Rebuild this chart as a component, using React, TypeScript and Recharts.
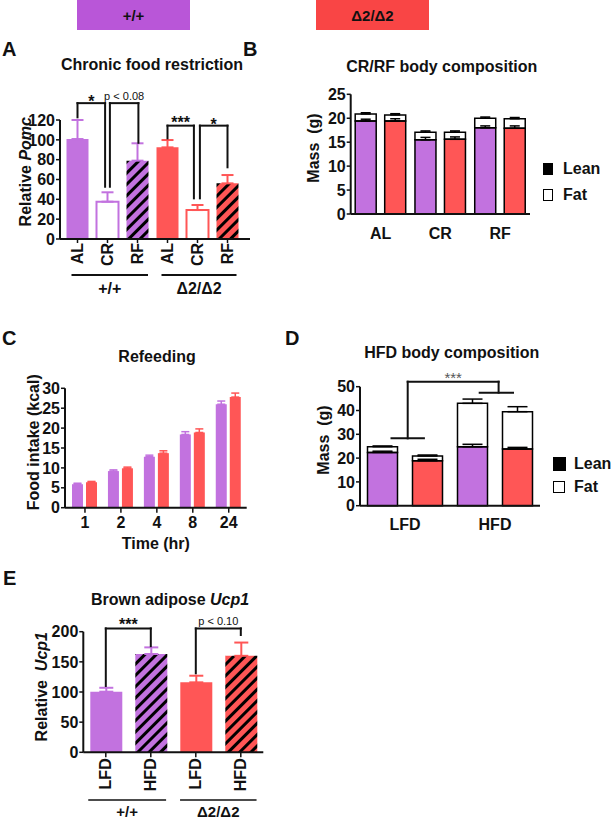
import React from 'react';
import { Bar, BarChart, Cell, ErrorBar, ReferenceLine, XAxis, YAxis } from 'recharts';

const FONT = '"Liberation Sans", Arial, Helvetica, sans-serif';
const PURPLE = '#C272DF';
const RED = '#FF5656';
const INK = '#111';

// A - chronic food restriction, relative Pomc
const pomcDiets = ['AL', 'CR', 'RF', 'AL', 'CR', 'RF'];
const pomcWt = [100.8, 37.6, 79, null, null, null];
const pomcWtErr = [19.2, 9.5, 17.5, null, null, null];
const pomcMut = [null, null, null, 92.4, 29.2, 56.1];
const pomcMutErr = [null, null, null, 7.4, 5.1, 8.4];
const pomcTicks = [0, 20, 40, 60, 80, 100, 120];
const pomcBrackets = [
  { a: 0, b: 0.92, top: 137, endA: 122.7, endB: 52.7, text: '*' },
  { a: 1.08, b: 2.03, top: 137, endA: 52.7, endB: 97, text: 'p < 0.08' },
  { a: 3, b: 3.88, top: 114.3, endA: 101.5, endB: 41, text: '***' },
  { a: 4.08, b: 5, top: 114.3, endA: 41, endB: 72.3, text: '*' },
];
const pomcGroups = [
  { from: -0.2, to: 2.35, y: -36.3, name: '+/+' },
  { from: 2.8, to: 5.3, y: -36.3, name: 'Δ2/Δ2' },
];

// B - CR/RF body composition
const compDiets = ['AL', 'CR', 'RF'];
const compLeanWt = [19.4, 15.5, 18.0];
const compLeanWtErr = [0.4, 0.5, 0.4];
const compFatWt = [1.5, 1.6, 2.0];
const compFatWtErr = [0.25, 0.25, 0.25];
const compLeanMut = [19.4, 15.6, 17.9];
const compLeanMutErr = [0.5, 0.5, 0.5];
const compFatMut = [1.3, 1.5, 2.0];
const compFatMutErr = [0.25, 0.25, 0.25];

// C - refeeding
const refeedHours = ['1', '2', '4', '8', '24'];
const refeedWt = [5.9, 9.2, 12.8, 18.4, 26.0];
const refeedWtErr = [0.25, 0.3, 0.4, 0.7, 0.8];
const refeedMut = [6.4, 9.9, 13.7, 18.9, 27.8];
const refeedMutErr = [0.2, 0.3, 0.6, 0.9, 1.0];

// D - HFD body composition
const hfdDiets = ['LFD', 'HFD'];
const hfdLeanWt = [22.4, 24.8];
const hfdLeanWtErr = [0.5, 1.0];
const hfdFatWt = [2.4, 18.2];
const hfdFatWtErr = [0.3, 1.8];
const hfdLeanMut = [18.9, 23.8];
const hfdLeanMutErr = [0.6, 0.7];
const hfdFatMut = [2.0, 15.7];
const hfdFatMutErr = [0.4, 2.1];
const hfdBracket = [
  { x1: -0.15, y1: 28.3, x2: 0.21, y2: 28.3 },
  { x1: 0.03, y1: 28.3, x2: 0.03, y2: 52.1 },
  { x1: 0.03, y1: 52.1, x2: 1.04, y2: 52.1, text: '***' },
  { x1: 1.04, y1: 52.1, x2: 1.04, y2: 47.5 },
  { x1: 0.83, y1: 47.5, x2: 1.2, y2: 47.5 },
];

// E - brown adipose Ucp1
const ucpDiets = ['LFD', 'HFD', 'LFD', 'HFD'];
const ucpWt = [100.5, 163, null, null];
const ucpWtErr = [6.5, 11, null, null];
const ucpMut = [null, null, 116, 160];
const ucpMutErr = [null, null, 11, 22];
const ucpBrackets = [
  { a: 0, b: 1, top: 205.5, endA: 110, endB: 176, text: '***' },
  { a: 2, b: 3, top: 205.5, endA: 131, endB: 194.5, text: 'p < 0.10' },
];
const ucpGroups = [
  { from: -0.39, to: 1.34, y: -79, name: '+/+' },
  { from: 1.65, to: 3.35, y: -79, name: 'Δ2/Δ2' },
];

const up = (e: number | null) => (e == null ? null : [0, e]);

const pomcData = pomcDiets.map((diet, i) => ({
  diet, pos: i, wt: pomcWt[i], wtErr: up(pomcWtErr[i]), mut: pomcMut[i], mutErr: up(pomcMutErr[i]),
}));
const compData = compDiets.map((diet, i) => ({
  diet,
  leanWt: compLeanWt[i], leanWtErr: up(compLeanWtErr[i]),
  fatWt: compFatWt[i], fatWtErr: up(compFatWtErr[i]),
  leanMut: compLeanMut[i], leanMutErr: up(compLeanMutErr[i]),
  fatMut: compFatMut[i], fatMutErr: up(compFatMutErr[i]),
}));
const refeedData = refeedHours.map((hr, i) => ({
  hr, wt: refeedWt[i], wtErr: up(refeedWtErr[i]), mut: refeedMut[i], mutErr: up(refeedMutErr[i]),
}));
const hfdData = hfdDiets.map((diet, i) => ({
  diet, pos: i,
  leanWt: hfdLeanWt[i], leanWtErr: up(hfdLeanWtErr[i]),
  fatWt: hfdFatWt[i], fatWtErr: up(hfdFatWtErr[i]),
  leanMut: hfdLeanMut[i], leanMutErr: up(hfdLeanMutErr[i]),
  fatMut: hfdFatMut[i], fatMutErr: up(hfdFatMutErr[i]),
}));
const ucpData = ucpDiets.map((diet, i) => ({
  diet, pos: i, wt: ucpWt[i], wtErr: up(ucpWtErr[i]), mut: ucpMut[i], mutErr: up(ucpMutErr[i]),
}));

const axisLine = { stroke: INK, strokeWidth: 2 };
const tickLine = { stroke: INK, strokeWidth: 1.5 };
const tickFont = { fill: INK, fontSize: 16, fontWeight: 700, fontFamily: FONT };

const RotTick = (props: any) => {
  const { x, y, payload } = props;
  return (
    <text x={x} y={y} dy="0.35em" textAnchor="end" transform={`rotate(-90, ${x}, ${y})`}
      fill={INK} fontSize={16} fontWeight={700} fontFamily={FONT}>
      {payload.value}
    </text>
  );
};

const SideTitle = (props: any) => {
  const { cx, cy, parts } = props;
  return (
    <text x={cx} y={cy} dy="0.35em" textAnchor="middle" transform={`rotate(-90, ${cx}, ${cy})`}
      fill={INK} fontSize={16} fontWeight={700} fontFamily={FONT} style={{ whiteSpace: 'pre' }}>
      {parts.map((p: any, i: number) => (
        <tspan key={i} fontStyle={p.italic ? 'italic' : 'normal'}>{p.text}</tspan>
      ))}
    </text>
  );
};

const Hatch = ({ id, color }: { id: string; color: string }) => (
  <pattern id={id} patternUnits="userSpaceOnUse" width="8" height="8" patternTransform="rotate(45)">
    <rect width="8" height="8" fill={color} />
    <rect width="3" height="8" fill="#000" />
  </pattern>
);

const starLabel = (text: string) =>
  text.startsWith('p')
    ? { value: text, position: 'top' as const, offset: 3, fontSize: 11, fill: INK, stroke: 'none', fontFamily: FONT }
    : { value: text, position: 'top' as const, offset: text.length > 1 ? -2 : -4, fontSize: 16, fontWeight: 700, fill: INK, stroke: 'none', fontFamily: FONT };

const bracket = (b: any, key: string) => [
  <ReferenceLine key={key + 'l'} xAxisId="n" ifOverflow="visible" stroke={INK} strokeWidth={2} strokeLinecap="square"
    segment={[{ x: b.a, y: b.endA }, { x: b.a, y: b.top }]} />,
  <ReferenceLine key={key + 't'} xAxisId="n" ifOverflow="visible" stroke={INK} strokeWidth={2} strokeLinecap="square"
    segment={[{ x: b.a, y: b.top }, { x: b.b, y: b.top }]} label={starLabel(b.text)} />,
  <ReferenceLine key={key + 'r'} xAxisId="n" ifOverflow="visible" stroke={INK} strokeWidth={2} strokeLinecap="square"
    segment={[{ x: b.b, y: b.top }, { x: b.b, y: b.endB }]} />,
];

const groupLine = (g: any, key: string, width: number, offset: number, size: number) => (
  <ReferenceLine key={key} xAxisId="n" ifOverflow="visible" stroke={INK} strokeWidth={width}
    segment={[{ x: g.from, y: g.y }, { x: g.to, y: g.y }]}
    label={{ value: g.name, position: 'bottom', offset, fontSize: size, fontWeight: 700, fill: INK, stroke: 'none', fontFamily: FONT }} />
);

const abs = (left: number, top: number): React.CSSProperties => ({ position: 'absolute', left, top });

const Title = ({ cx, cy, children }: any) => (
  <div style={{ ...abs(cx - 150, cy - 8), width: 300, textAlign: 'center', fontSize: 16, lineHeight: '16px', fontWeight: 700, color: INK }}>
    {children}
  </div>
);

const Letter = ({ x, y, children }: any) => (
  <div style={{ ...abs(x, y), fontSize: 20, lineHeight: '20px', fontWeight: 700, color: INK }}>{children}</div>
);

const LegendKey = ({ x, y, size, filled, text, tx }: any) => (
  <>
    <div style={{ ...abs(x, y), width: size[0], height: size[1], boxSizing: 'border-box', background: filled ? '#000' : '#fff', border: '1.5px solid #000' }} />
    <div style={{ ...abs(tx, y + size[1] / 2 - 8), fontSize: 16, lineHeight: '16px', fontWeight: 700, color: INK }}>{text}</div>
  </>
);

const pomcFill = (diet: string, color: string, hatch: string) =>
  diet === 'CR' ? '#fff' : diet === 'RF' ? `url(#${hatch})` : color;

export default function App() {
  return (
    <div style={{ position: 'absolute', left: 0, top: 0, width: 611, height: 819, background: '#fff', fontFamily: FONT, overflow: 'hidden' }}>
      <div style={{ ...abs(77, 0), width: 113, height: 30, background: '#B956D8', display: 'flex', alignItems: 'center', justifyContent: 'center', fontSize: 15, fontWeight: 700, color: INK }}>+/+</div>
      <div style={{ ...abs(316, 0), width: 113, height: 30, background: '#F94545', display: 'flex', alignItems: 'center', justifyContent: 'center', fontSize: 15, fontWeight: 700, color: INK }}>Δ2/Δ2</div>

      <Letter x={2} y={39}>A</Letter>
      <Letter x={243} y={39}>B</Letter>
      <Letter x={2} y={327.5}>C</Letter>
      <Letter x={285} y={327.5}>D</Letter>
      <Letter x={3} y={567.5}>E</Letter>

      <Title cx={152} cy={65}>Chronic food restriction</Title>
      <Title cx={441.7} cy={67.3}>CR/RF body composition</Title>
      <Title cx={157} cy={356.7}>Refeeding</Title>
      <Title cx={451.7} cy={353.3}>HFD body composition</Title>
      <Title cx={170} cy={600}>Brown adipose <i>Ucp1</i></Title>

      {/* A */}
      <div style={abs(0, 60)}>
        <BarChart width={265} height={245} data={pomcData} margin={{ top: 60, right: 15, bottom: 0, left: 0 }} barSize={22}>
          <defs>
            <Hatch id="hatchPA" color={PURPLE} />
            <Hatch id="hatchRA" color={RED} />
          </defs>
          <XAxis xAxisId="a" dataKey="diet" height={66} interval={0} padding={{ left: 2.5, right: 7.5 }}
            tick={<RotTick />} tickSize={4} tickMargin={0} axisLine={axisLine} tickLine={tickLine} />
          <XAxis xAxisId="b" dataKey="diet" hide padding={{ left: 2.5, right: 7.5 }} />
          <XAxis xAxisId="n" dataKey="pos" type="number" domain={['dataMin', 'dataMax']} hide padding={{ left: 17.5, right: 22.5 }} />
          <YAxis width={60} domain={[0, 120]} ticks={pomcTicks} interval={0} tick={tickFont} tickSize={4} tickMargin={1}
            axisLine={axisLine} tickLine={tickLine}
            label={<SideTitle cx={25} cy={111.7} parts={[{ text: 'Relative ' }, { text: 'Pomc', italic: true }]} />} />
          <Bar xAxisId="a" dataKey="wt" isAnimationActive={false}>
            {pomcData.map((d, i) => (
              <Cell key={i} fill={pomcFill(d.diet, PURPLE, 'hatchPA')} stroke={d.diet === 'CR' ? PURPLE : 'none'} strokeWidth={2} />
            ))}
            <ErrorBar dataKey="wtErr" width={6} stroke={PURPLE} strokeWidth={2} />
          </Bar>
          <Bar xAxisId="b" dataKey="mut" isAnimationActive={false}>
            {pomcData.map((d, i) => (
              <Cell key={i} fill={pomcFill(d.diet, RED, 'hatchRA')} stroke={d.diet === 'CR' ? RED : 'none'} strokeWidth={2} />
            ))}
            <ErrorBar dataKey="mutErr" width={6} stroke={RED} strokeWidth={2} />
          </Bar>
          {pomcBrackets.map((b, i) => bracket(b, 'pb' + i))}
          {pomcGroups.map((g, i) => groupLine(g, 'pg' + i, 2, 8, 16))}
        </BarChart>
      </div>

      {/* B */}
      <div style={abs(300, 60)}>
        <BarChart width={240} height={190} data={compData} margin={{ top: 34.3, right: 10, bottom: 0, left: 0 }} barGap={8.5} barCategoryGap={4.5}>
          <XAxis dataKey="diet" height={36} interval={0} tick={tickFont} tickLine={false} tickSize={5} tickMargin={9} axisLine={axisLine} />
          <YAxis width={50.7} domain={[0, 25]} ticks={[0, 5, 10, 15, 20, 25]} interval={0} tick={tickFont} tickSize={4} tickMargin={1}
            axisLine={axisLine} tickLine={tickLine}
            label={<SideTitle cx={13} cy={88} parts={[{ text: 'Mass  (g)' }]} />} />
          <Bar dataKey="leanWt" stackId="w" fill={PURPLE} stroke="#000" strokeWidth={1.5} isAnimationActive={false}>
            <ErrorBar dataKey="leanWtErr" width={5} stroke="#000" strokeWidth={1.5} />
          </Bar>
          <Bar dataKey="fatWt" stackId="w" fill="none" stroke="#000" strokeWidth={1.5} isAnimationActive={false}>
            <ErrorBar dataKey="fatWtErr" width={5} stroke="#000" strokeWidth={1.5} />
          </Bar>
          <Bar dataKey="leanMut" stackId="m" fill={RED} stroke="#000" strokeWidth={1.5} isAnimationActive={false}>
            <ErrorBar dataKey="leanMutErr" width={5} stroke="#000" strokeWidth={1.5} />
          </Bar>
          <Bar dataKey="fatMut" stackId="m" fill="none" stroke="#000" strokeWidth={1.5} isAnimationActive={false}>
            <ErrorBar dataKey="fatMutErr" width={5} stroke="#000" strokeWidth={1.5} />
          </Bar>
        </BarChart>
      </div>
      <LegendKey x={542.5} y={163} size={[10.5, 11.5]} filled text="Lean" tx={563} />
      <LegendKey x={542.5} y={189} size={[10.5, 11.5]} text="Fat" tx={563} />

      {/* C */}
      <div style={abs(0, 370)}>
        <BarChart width={260} height={185} data={refeedData} margin={{ top: 18.3, right: 13.3, bottom: 0, left: 0 }} barSize={11} barGap={3}>
          <XAxis dataKey="hr" height={47.3} interval={0} padding={{ left: 2, right: 0 }} tick={tickFont} tickSize={5} tickMargin={4}
            axisLine={axisLine} tickLine={tickLine}
            label={{ value: 'Time (hr)', position: 'insideBottom', offset: 6.5, fontSize: 16, fontWeight: 700, fill: INK, fontFamily: FONT }} />
          <YAxis width={65} domain={[0, 30]} ticks={[0, 5, 10, 15, 20, 25, 30]} interval={0} tick={tickFont} tickSize={4} tickMargin={1}
            axisLine={axisLine} tickLine={tickLine}
            label={<SideTitle cx={33} cy={72.3} parts={[{ text: 'Food intake (kcal)' }]} />} />
          <Bar dataKey="wt" fill={PURPLE} isAnimationActive={false}>
            <ErrorBar dataKey="wtErr" width={4} stroke={PURPLE} strokeWidth={1.5} />
          </Bar>
          <Bar dataKey="mut" fill={RED} isAnimationActive={false}>
            <ErrorBar dataKey="mutErr" width={4} stroke={RED} strokeWidth={1.5} />
          </Bar>
        </BarChart>
      </div>

      {/* D */}
      <div style={abs(300, 360)}>
        <BarChart width={250} height={175} data={hfdData} margin={{ top: 26.7, right: 10, bottom: 0, left: 0 }} barGap={15} barCategoryGap={7.5}>
          <XAxis dataKey="diet" height={29.3} interval={0} tick={tickFont} tickLine={false} tickSize={5} tickMargin={8} axisLine={axisLine} />
          <XAxis xAxisId="n" dataKey="pos" type="number" domain={['dataMin', 'dataMax']} hide padding={{ left: 45, right: 45 }} />
          <YAxis width={60} domain={[0, 50]} ticks={[0, 10, 20, 30, 40, 50]} interval={0} tick={tickFont} tickSize={4} tickMargin={1}
            axisLine={axisLine} tickLine={tickLine}
            label={<SideTitle cx={23} cy={80} parts={[{ text: 'Mass  (g)' }]} />} />
          <Bar dataKey="leanWt" stackId="w" fill={PURPLE} stroke="#000" strokeWidth={1.5} isAnimationActive={false}>
            <ErrorBar dataKey="leanWtErr" width={10} stroke="#000" strokeWidth={1.5} />
          </Bar>
          <Bar dataKey="fatWt" stackId="w" fill="none" stroke="#000" strokeWidth={1.5} isAnimationActive={false}>
            <ErrorBar dataKey="fatWtErr" width={10} stroke="#000" strokeWidth={1.5} />
          </Bar>
          <Bar dataKey="leanMut" stackId="m" fill={RED} stroke="#000" strokeWidth={1.5} isAnimationActive={false}>
            <ErrorBar dataKey="leanMutErr" width={10} stroke="#000" strokeWidth={1.5} />
          </Bar>
          <Bar dataKey="fatMut" stackId="m" fill="none" stroke="#000" strokeWidth={1.5} isAnimationActive={false}>
            <ErrorBar dataKey="fatMutErr" width={10} stroke="#000" strokeWidth={1.5} />
          </Bar>
          {hfdBracket.map((s, i) => (
            <ReferenceLine key={'hb' + i} xAxisId="n" ifOverflow="visible" stroke={INK} strokeWidth={2} strokeLinecap="square"
              segment={[{ x: s.x1, y: s.y1 }, { x: s.x2, y: s.y2 }]}
              label={s.text ? { value: s.text, position: 'top', offset: -1, fontSize: 15, fill: '#555', stroke: 'none', fontFamily: FONT } : undefined} />
          ))}
        </BarChart>
      </div>
      <LegendKey x={552.5} y={456.5} size={[13, 14]} filled text="Lean" tx={574} />
      <LegendKey x={553} y={481} size={[12, 12]} text="Fat" tx={574} />

      {/* E */}
      <div style={abs(0, 605)}>
        <BarChart width={275} height={214} data={ucpData} margin={{ top: 26.7, right: 11.7, bottom: 0, left: 0 }} barSize={32}>
          <defs>
            <Hatch id="hatchPE" color={PURPLE} />
            <Hatch id="hatchRE" color={RED} />
          </defs>
          <XAxis xAxisId="a" dataKey="diet" height={66.7} interval={0} tick={<RotTick />} tickSize={5} tickMargin={1}
            axisLine={axisLine} tickLine={tickLine} />
          <XAxis xAxisId="b" dataKey="diet" hide />
          <XAxis xAxisId="n" dataKey="pos" type="number" domain={['dataMin', 'dataMax']} hide padding={{ left: 22.5, right: 22.5 }} />
          <YAxis width={83.3} domain={[0, 200]} ticks={[0, 50, 100, 150, 200]} interval={0} tick={tickFont} tickSize={4} tickMargin={1}
            axisLine={axisLine} tickLine={tickLine}
            label={<SideTitle cx={41.7} cy={81.7} parts={[{ text: 'Relative  ' }, { text: 'Ucp1', italic: true }]} />} />
          <Bar xAxisId="a" dataKey="wt" isAnimationActive={false}>
            {ucpData.map((d, i) => (
              <Cell key={i} fill={d.diet === 'HFD' ? 'url(#hatchPE)' : PURPLE} />
            ))}
            <ErrorBar dataKey="wtErr" width={7} stroke={PURPLE} strokeWidth={2} />
          </Bar>
          <Bar xAxisId="b" dataKey="mut" isAnimationActive={false}>
            {ucpData.map((d, i) => (
              <Cell key={i} fill={d.diet === 'HFD' ? 'url(#hatchRE)' : RED} />
            ))}
            <ErrorBar dataKey="mutErr" width={7} stroke={RED} strokeWidth={2} />
          </Bar>
          {ucpBrackets.map((b, i) => bracket(b, 'ub' + i))}
          {ucpGroups.map((g, i) => groupLine(g, 'ug' + i, 1.5, 6, 15))}
        </BarChart>
      </div>
    </div>
  );
}
